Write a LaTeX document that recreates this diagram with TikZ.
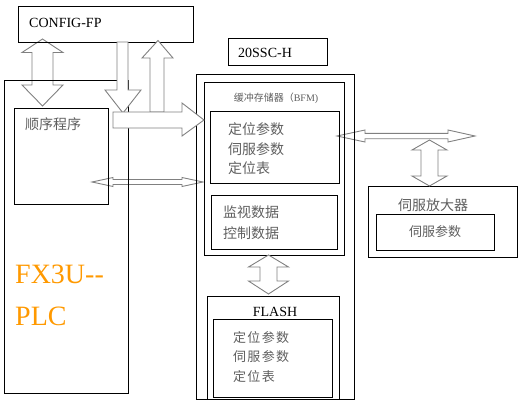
\documentclass[tikz,border=0pt]{standalone}
\usepackage{fontspec}
\setmainfont{Liberation Serif}
\newfontfamily\cjk{Noto Sans CJK SC}
\usetikzlibrary{fit}
\definecolor{txtgray}{RGB}{95,95,95}
\definecolor{plcorange}{RGB}{255,153,0}
\definecolor{arrgray}{RGB}{128,128,128}
% vertical double block arrow: xc ytop ybot shaft-half head-half headlen-top headlen-bottom
\newcommand{\vdblarrow}[7]{%
  \path[blk] ({#1-#4},{#2+#6}) -- ({#1-#5},{#2+#6}) -- (#1,#2) -- ({#1+#5},{#2+#6}) -- ({#1+#4},{#2+#6})
    -- ({#1+#4},{#3-#7}) -- ({#1+#5},{#3-#7}) -- (#1,#3) -- ({#1-#5},{#3-#7}) -- ({#1-#4},{#3-#7}) -- cycle;}
% horizontal double block arrow: yc xleft xright shaft-half head-half headlen-left headlen-right
\newcommand{\hdblarrow}[7]{%
  \path[blk] ({#2+#6},{#1-#4}) -- ({#2+#6},{#1-#5}) -- (#2,#1) -- ({#2+#6},{#1+#5}) -- ({#2+#6},{#1+#4})
    -- ({#3-#7},{#1+#4}) -- ({#3-#7},{#1+#5}) -- (#3,#1) -- ({#3-#7},{#1-#5}) -- ({#3-#7},{#1-#4}) -- cycle;}
\begin{document}
\begin{tikzpicture}[x=1pt,y=-1pt,
  box/.style={draw, line width=0.9pt, inner sep=0pt},
  blk/.style={draw=arrgray, fill=white, line width=0.9pt, line join=miter},
  cn/.style={font=\cjk\fontsize{14}{14}\selectfont, text=txtgray, inner sep=0pt, anchor=west},
  cnsmall/.style={font=\cjk\fontsize{13}{13}\selectfont\addfontfeatures{LetterSpace=10}, text=txtgray, inner sep=0pt, anchor=west},
  lat/.style={font=\fontsize{14}{14}\selectfont, inner sep=0pt}]
\useasboundingbox (0,0) rectangle (525,404);

% arrows lying under box lines
\vdblarrow{42.5}{39}{106}{10.5}{20.5}{13.5}{21}
\hdblarrow{182}{92}{203}{2.5}{4.5}{21}{21}
\hdblarrow{136}{337}{475}{2.7}{6}{28}{27}

% boxes
\node[box, fit={(18,6) (193,42)}] (cfg) {};
\node[box, fit={(4,80) (128,393)}] (plc) {};
\node[box, fit={(14,108) (108,204)}] (seq) {};
\node[box, fit={(228,38) (327,65)}] (ssclbl) {};
\node[box, fit={(196,74) (354,399)}] (ssc) {};
\node[box, fit={(204,82) (344,255)}] (bfm) {};
\node[box, fit={(210,111) (339,183)}] (bfmpar) {};
\node[box, fit={(211,195) (337,249)}] (mon) {};
\node[box, fit={(207,296) (339,399)}] (flash) {};
\node[box, fit={(213,319) (332,397)}] (flashpar) {};
\node[box, fit={(368,186) (517,257)}] (amp) {};
\node[box, fit={(376,214) (494,250)}] (amppar) {};

% block arrows over the boxes
\path[blk] (117,42) -- (117,90) -- (105,90) -- (123,113) -- (141,90) -- (128,90) -- (128,42) -- cycle;
\path[blk] (150,112) -- (150,58) -- (142,58) -- (158,40.5) -- (173,58) -- (164,58) -- (164,112) -- cycle;
\path[blk] (113,112) -- (182,112) -- (182,103) -- (204,120) -- (182,136) -- (182,128) -- (113,128) -- cycle;
\vdblarrow{429.5}{140}{186}{8.5}{17.5}{10}{10}
\vdblarrow{268.5}{255}{294}{8.5}{20}{12}{13}

% texts
\node[lat, anchor=base west] (cfgt) at (29,28) {CONFIG-FP};
\node[lat, anchor=base west] (ssct) at (238,58) {20SSC-H};
\node[font=\fontsize{28}{28}\selectfont, text=plcorange, inner sep=0pt, anchor=base west] (plca) at (15,283) {FX3U{-}{-}};
\node[font=\fontsize{28}{28}\selectfont, text=plcorange, inner sep=0pt, anchor=base west] (plcb) at (15,325) {PLC};
\node[cn] (seqt) at (25,124.5) {顺序程序};
\node[font=\fontsize{10}{10}\selectfont, text=txtgray, inner sep=0pt] (bfmt) at (276,98) {{\cjk 缓冲存储器（}BFM)};
\node[cn] (p1) at (228,129.5) {定位参数};
\node[cn] (p2) at (228,149.5) {伺服参数};
\node[cn] (p3) at (228,168.5) {定位表};
\node[cn] (m1) at (223,212.5) {监视数据};
\node[cn] (m2) at (223,233) {控制数据};
\node[lat, anchor=base] (flasht) at (275,316) {FLASH};
\node[cnsmall] (f1) at (233,337.5) {定位参数};
\node[cnsmall] (f2) at (233,357) {伺服参数};
\node[cnsmall] (f3) at (233,377) {定位表};
\node[cn, anchor=center] (ampt) at (433,205) {伺服放大器};
\node[cn, anchor=center, font=\cjk\fontsize{13}{13}\selectfont] (amppt) at (435,232) {伺服参数};
\end{tikzpicture}
\end{document}
